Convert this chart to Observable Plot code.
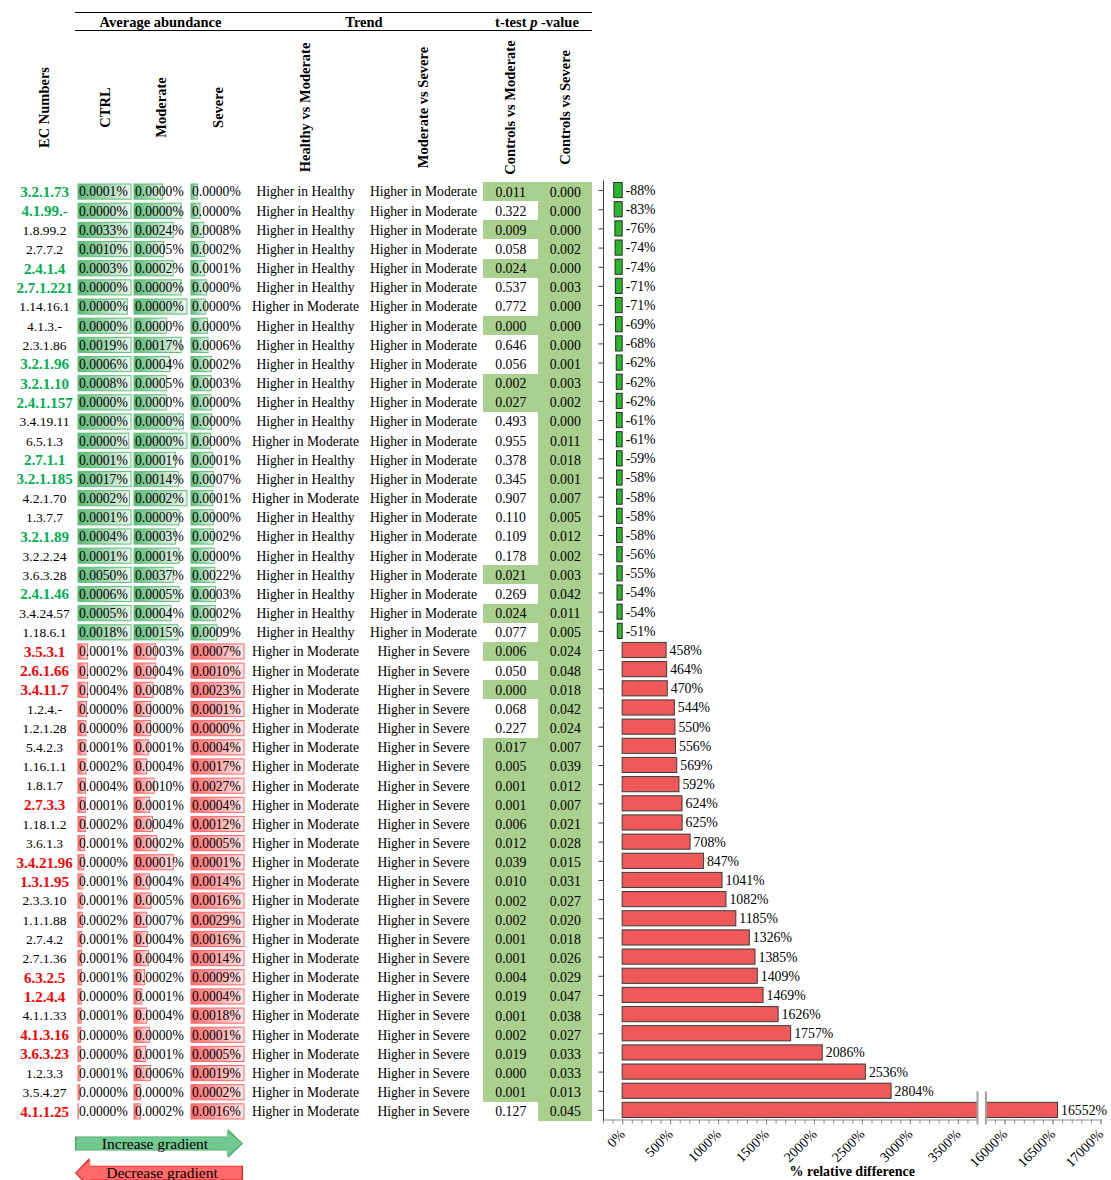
<!DOCTYPE html>
<html>
<head>
<meta charset="utf-8">
<script src="https://cdn.jsdelivr.net/npm/d3@7"></script>
<script src="https://cdn.jsdelivr.net/npm/@observablehq/plot@0.6"></script>
<style>
html, body { margin: 0; padding: 0; background: #fff; }
#root { position: relative; width: 1111px; height: 1180px; overflow: hidden;
  font-family: 'Liberation Serif', 'Times New Roman', Times, serif; color: #000; }
.col { position: absolute; top: 0; }
.col svg { display: block; overflow: visible; }
#groupHeader { position: absolute; left: 75px; top: 12px; width: 517px; height: 17px;
  border-top: 1.5px solid #000; border-bottom: 1.5px solid #000; display: flex;
  font-weight: bold; font-size: 14.5px; line-height: 18px; }
#groupHeader div { text-align: center; white-space: nowrap; }
.arrow { position: absolute; }
.arrow .edge, .arrow .fill { position: absolute; }
.arrow .edge { inset: 0; }
.arrow .fill { inset: 1.3px; }
.arrow span { position: absolute; font-size: 15.5px; line-height: 16px; white-space: nowrap; transform: translate(-50%, -50%); }
#arrInc .edge, #arrInc .fill { clip-path: polygon(0 26%, 91% 26%, 91% 0, 100% 50%, 91% 100%, 91% 74%, 0 74%); }
#arrDec .edge, #arrDec .fill { clip-path: polygon(100% 26%, 8.5% 26%, 8.5% 0, 0 50%, 8.5% 100%, 8.5% 74%, 100% 74%); }
#arrInc .edge { background: #3fa860; }
#arrInc .fill { background: #72c98f; }
#arrDec .edge { background: #ee1c1c; }
#arrDec .fill { background: #ff6b6b; }
</style>
</head>
<body>
<svg width="0" height="0" style="position:absolute">
  <defs>
    <linearGradient id="gradGreen" x1="0" x2="1" y1="0" y2="0">
      <stop offset="0" stop-color="#5bb974"/>
      <stop offset="1" stop-color="#e9f6ec"/>
    </linearGradient>
    <linearGradient id="gradRed" x1="0" x2="1" y1="0" y2="0">
      <stop offset="0" stop-color="#f8696b"/>
      <stop offset="1" stop-color="#fde6e6"/>
    </linearGradient>
  </defs>
</svg>
<div id="root">
  <div id="groupHeader">
    <div style="width:171px">Average abundance</div>
    <div style="width:236px">Trend</div>
    <div style="width:110px">t-test <i>p</i> -value</div>
  </div>
  <div class="arrow" id="arrInc" style="left:75px;top:1129px;width:168px;height:29px">
    <div class="edge"></div><div class="fill"></div>
    <span style="left:80px;top:15px">Increase gradient</span>
  </div>
  <div class="arrow" id="arrDec" style="left:75px;top:1158px;width:168px;height:30px">
    <div class="edge"></div><div class="fill"></div>
    <span style="left:87px;top:15px">Decrease gradient</span>
  </div>
</div>
<script>
// ---------------- data ----------------
const ecNumbers = ["3.2.1.73","4.1.99.-","1.8.99.2","2.7.7.2","2.4.1.4","2.7.1.221","1.14.16.1","4.1.3.-","2.3.1.86","3.2.1.96","3.2.1.10","2.4.1.157","3.4.19.11","6.5.1.3","2.7.1.1","3.2.1.185","4.2.1.70","1.3.7.7","3.2.1.89","3.2.2.24","3.6.3.28","2.4.1.46","3.4.24.57","1.18.6.1","3.5.3.1","2.6.1.66","3.4.11.7","1.2.4.-","1.2.1.28","5.4.2.3","1.16.1.1","1.8.1.7","2.7.3.3","1.18.1.2","3.6.1.3","3.4.21.96","1.3.1.95","2.3.3.10","1.1.1.88","2.7.4.2","2.7.1.36","6.3.2.5","1.2.4.4","4.1.1.33","4.1.3.16","3.6.3.23","1.2.3.3","3.5.4.27","4.1.1.25"];
const highlighted = [1,1,0,0,1,1,0,0,0,1,1,1,0,0,1,1,0,0,1,0,0,1,0,0, 1,1,1,0,0,0,0,0,1,0,0,1,1,0,0,0,0,1,1,0,1,1,0,0,1];
const ctrlAbundance = [0.0001,0.0000,0.0033,0.0010,0.0003,0.0000,0.0000,0.0000,0.0019,0.0006,0.0008,0.0000,0.0000,0.0000,0.0001,0.0017,0.0002,0.0001,0.0004,0.0001,0.0050,0.0006,0.0005,0.0018,
  0.0001,0.0002,0.0004,0.0000,0.0000,0.0001,0.0002,0.0004,0.0001,0.0002,0.0001,0.0000,0.0001,0.0001,0.0002,0.0001,0.0001,0.0001,0.0000,0.0001,0.0000,0.0000,0.0001,0.0000,0.0000];
const moderateAbundance = [0.0000,0.0000,0.0024,0.0005,0.0002,0.0000,0.0000,0.0000,0.0017,0.0004,0.0005,0.0000,0.0000,0.0000,0.0001,0.0014,0.0002,0.0000,0.0003,0.0001,0.0037,0.0005,0.0004,0.0015,
  0.0003,0.0004,0.0008,0.0000,0.0000,0.0001,0.0004,0.0010,0.0001,0.0004,0.0002,0.0001,0.0004,0.0005,0.0007,0.0004,0.0004,0.0002,0.0001,0.0004,0.0000,0.0001,0.0006,0.0000,0.0002];
const severeAbundance = [0.0000,0.0000,0.0008,0.0002,0.0001,0.0000,0.0000,0.0000,0.0006,0.0002,0.0003,0.0000,0.0000,0.0000,0.0001,0.0007,0.0001,0.0000,0.0002,0.0000,0.0022,0.0003,0.0002,0.0009,
  0.0007,0.0010,0.0023,0.0001,0.0000,0.0004,0.0017,0.0027,0.0004,0.0012,0.0005,0.0001,0.0014,0.0016,0.0029,0.0016,0.0014,0.0009,0.0004,0.0018,0.0001,0.0005,0.0019,0.0002,0.0016];
// data-bar lengths (share of the row's largest abundance)
const ctrlBar = [1,1,1,1,1,1,0.93,1,1,1,1,1,1,0.96,1,1,0.97,1,1,1,1,1,1,1,
  0.18,0.18,0.18,0.16,0.15,0.15,0.15,0.14,0.14,0.14,0.12,0.11,0.09,0.08,0.08,0.07,0.07,0.07,0.06,0.06,0.05,0.05,0.04,0.03,0.006];
const moderateBar = [0.54,0.89,0.74,0.56,0.74,0.89,1,0.61,0.89,0.67,0.61,0.61,0.93,1,0.78,0.84,1,0.85,0.78,0.85,0.74,0.85,0.7,0.83,
  0.41,0.41,0.36,0.31,0.31,0.27,0.24,0.38,0.29,0.35,0.43,0.74,0.29,0.32,0.24,0.25,0.27,0.2,0.15,0.24,0.29,0.22,0.31,0.12,0.12];
const severeBar = [0.12,0.17,0.24,0.26,0.26,0.29,0.27,0.31,0.32,0.38,0.38,0.38,0.39,0.37,0.41,0.42,0.41,0.42,0.42,0.44,0.45,0.46,0.46,0.49,
  1,1,1,1,1,1,1,1,1,1,1,1,1,1,1,1,1,1,1,1,1,1,1,1,1];
const trendHealthyVsModerate = [
  "Higher in Healthy","Higher in Healthy","Higher in Healthy","Higher in Healthy","Higher in Healthy","Higher in Healthy","Higher in Moderate","Higher in Healthy",
  "Higher in Healthy","Higher in Healthy","Higher in Healthy","Higher in Healthy","Higher in Healthy","Higher in Moderate","Higher in Healthy","Higher in Healthy",
  "Higher in Moderate","Higher in Healthy","Higher in Healthy","Higher in Healthy","Higher in Healthy","Higher in Healthy","Higher in Healthy","Higher in Healthy",
  "Higher in Moderate","Higher in Moderate","Higher in Moderate","Higher in Moderate","Higher in Moderate","Higher in Moderate","Higher in Moderate","Higher in Moderate",
  "Higher in Moderate","Higher in Moderate","Higher in Moderate","Higher in Moderate","Higher in Moderate","Higher in Moderate","Higher in Moderate","Higher in Moderate",
  "Higher in Moderate","Higher in Moderate","Higher in Moderate","Higher in Moderate","Higher in Moderate","Higher in Moderate","Higher in Moderate","Higher in Moderate",
  "Higher in Moderate"];
const trendModerateVsSevere = [
  "Higher in Moderate","Higher in Moderate","Higher in Moderate","Higher in Moderate","Higher in Moderate","Higher in Moderate","Higher in Moderate","Higher in Moderate",
  "Higher in Moderate","Higher in Moderate","Higher in Moderate","Higher in Moderate","Higher in Moderate","Higher in Moderate","Higher in Moderate","Higher in Moderate",
  "Higher in Moderate","Higher in Moderate","Higher in Moderate","Higher in Moderate","Higher in Moderate","Higher in Moderate","Higher in Moderate","Higher in Moderate",
  "Higher in Severe","Higher in Severe","Higher in Severe","Higher in Severe","Higher in Severe","Higher in Severe","Higher in Severe","Higher in Severe",
  "Higher in Severe","Higher in Severe","Higher in Severe","Higher in Severe","Higher in Severe","Higher in Severe","Higher in Severe","Higher in Severe",
  "Higher in Severe","Higher in Severe","Higher in Severe","Higher in Severe","Higher in Severe","Higher in Severe","Higher in Severe","Higher in Severe",
  "Higher in Severe"];
const pControlsVsModerate = [0.011,0.322,0.009,0.058,0.024,0.537,0.772,0.000,0.646,0.056,0.002,0.027,0.493,0.955,0.378,0.345,0.907,0.110,0.109,0.178,0.021,0.269,0.024,0.077,
  0.006,0.050,0.000,0.068,0.227,0.017,0.005,0.001,0.001,0.006,0.012,0.039,0.010,0.002,0.002,0.001,0.001,0.004,0.019,0.001,0.002,0.019,0.000,0.001,0.127];
const pControlsVsSevere = [0.000,0.000,0.000,0.002,0.000,0.003,0.000,0.000,0.000,0.001,0.003,0.002,0.000,0.011,0.018,0.001,0.007,0.005,0.012,0.002,0.003,0.042,0.011,0.005,
  0.024,0.048,0.018,0.042,0.024,0.007,0.039,0.012,0.007,0.021,0.028,0.015,0.031,0.027,0.020,0.018,0.026,0.029,0.047,0.038,0.027,0.033,0.033,0.013,0.045];
const relDiff = [-88,-83,-76,-74,-74,-71,-71,-69,-68,-62,-62,-62,-61,-61,-59,-58,-58,-58,-58,-56,-55,-54,-54,-51,
  458,464,470,544,550,556,569,592,624,625,708,847,1041,1082,1185,1326,1385,1409,1469,1626,1757,2086,2536,2804,16552];

const abundanceColumns = ["CTRL", "Moderate", "Severe"];
const trendColumns = ["Healthy vs Moderate", "Moderate vs Severe"];
const pColumns = ["Controls vs Moderate", "Controls vs Severe"];
const xMajorTicks = [0, 500, 1000, 1500, 2000, 2500, 3000, 3500, 16000, 16500, 17000];
const xDomain = [-200, 17000];
const xBreak = [3700, 15800];
const pThreshold = 0.05;

// ---------------- build ----------------
const root = document.getElementById("root");
const FONT = "'Liberation Serif','Times New Roman',Times,serif";
const ROW_TOP = 182, ROW_BOTTOM = 1121, HEADER_DY = -75;
const GREEN_TXT = "#00b050", RED_TXT = "#ff0000";
const fmt4 = d3.format(".4f"), fmt3 = d3.format(".3f");
const STYLE = {background: "transparent", fontFamily: FONT, overflow: "visible", color: "#000"};

const rows = ecNumbers.map((ec, i) => ({
  ec, up: relDiff[i] > 0, hi: highlighted[i] === 1, rd: relDiff[i],
  abund: {CTRL: ctrlAbundance[i], Moderate: moderateAbundance[i], Severe: severeAbundance[i]},
  bar: {CTRL: ctrlBar[i], Moderate: moderateBar[i], Severe: severeBar[i]}
}));
const trendLong = rows.flatMap((d, i) => [
  {ec: d.ec, col: trendColumns[0], v: trendHealthyVsModerate[i]},
  {ec: d.ec, col: trendColumns[1], v: trendModerateVsSevere[i]}]);
const pLong = rows.flatMap((d, i) => [
  {ec: d.ec, col: pColumns[0], p: pControlsVsModerate[i]},
  {ec: d.ec, col: pColumns[1], p: pControlsVsSevere[i]}]);

function mount(svg, left, width) {
  const div = document.createElement("div");
  div.className = "col";
  div.style.left = left + "px";
  div.style.width = width + "px";
  div.append(svg);
  root.append(div);
}
function tablePlot(o) {
  return Plot.plot({
    height: ROW_BOTTOM, marginTop: ROW_TOP, marginBottom: 0, marginLeft: 0, marginRight: 0,
    y: {type: "band", domain: ecNumbers, padding: 0, round: false, axis: null},
    style: STYLE, ...o
  });
}
const header = (data, opts = {}) => Plot.text(data, {
  text: d => d, frameAnchor: "top", dy: HEADER_DY, rotate: -90, lineAnchor: "middle",
  fontWeight: "bold", fontSize: 14.5, ...opts});

// EC numbers
mount(tablePlot({
  width: 88,
  marks: [
    header(["EC Numbers"]),
    Plot.text(rows.filter(d => !d.hi), {y: "ec", text: "ec", frameAnchor: "middle", fontSize: 13.5}),
    Plot.text(rows.filter(d => d.hi && !d.up), {y: "ec", text: "ec", frameAnchor: "middle", fontSize: 15, fontWeight: "bold", fill: GREEN_TXT}),
    Plot.text(rows.filter(d => d.hi && d.up), {y: "ec", text: "ec", frameAnchor: "middle", fontSize: 15, fontWeight: "bold", fill: RED_TXT})
  ]
}), 0, 88);

// Average abundance columns with data bars
const abundanceLeft = [75.5, 131.5, 188.5];
abundanceColumns.forEach((c, j) => {
  mount(tablePlot({
    width: 57, marginLeft: 2, marginRight: 2,
    x: {domain: [0, 1], axis: null},
    marks: [
      Plot.barX(rows.filter(d => !d.up), {x: d => d.bar[c], y: "ec", fill: "url(#gradGreen)", stroke: "#63be7b", strokeWidth: 1, insetTop: 2, insetBottom: 2}),
      Plot.barX(rows.filter(d => d.up), {x: d => d.bar[c], y: "ec", fill: "url(#gradRed)", stroke: "#f8696b", strokeWidth: 1, insetTop: 2, insetBottom: 2}),
      Plot.text(rows, {y: "ec", text: d => fmt4(d.abund[c]) + "%", frameAnchor: "left", textAnchor: "start", dx: 0.5, fontSize: 13.6}),
      header([c])
    ]
  }), abundanceLeft[j], 57);
});

// Trend columns
mount(tablePlot({
  width: 236,
  x: {type: "band", domain: trendColumns, padding: 0, round: false, axis: null},
  marks: [
    Plot.text(trendLong, {x: "col", y: "ec", text: "v", fontSize: 13.6}),
    header(trendColumns, {x: d => d})
  ]
}), 246, 236);

// p-value columns
mount(tablePlot({
  width: 109,
  x: {type: "band", domain: pColumns, padding: 0, round: false, axis: null},
  marks: [
    Plot.cell(pLong.filter(d => d.p < pThreshold), {x: "col", y: "ec", fill: "#a9d08e", inset: 0, shapeRendering: "crispEdges"}),
    Plot.text(pLong, {x: "col", y: "ec", text: d => fmt3(d.p), fontSize: 13.8}),
    header(pColumns, {x: d => d})
  ]
}), 482.5, 109);

// Relative difference bar chart with broken axis
const BW = 551, BML = 43, BMR = 10.5, GAP = 8.4;
const units = (xBreak[0] - xDomain[0]) + (xDomain[1] - xBreak[1]);
const k = (BW - BML - BMR - GAP) / units;
const r1 = BML + (xBreak[0] - xDomain[0]) * k;
const xMinorTicks = [...d3.range(xDomain[0], xBreak[0], 100), ...d3.range(xBreak[1] + 100, xDomain[1] + 1, 100)];
const lastEc = ecNumbers[ecNumbers.length - 1];

mount(Plot.plot({
  width: BW, height: 1180, marginTop: 180.5, marginBottom: 60.5, marginLeft: BML, marginRight: BMR,
  x: {type: "linear", domain: [xDomain[0], xBreak[0], xBreak[1], xDomain[1]], range: [BML, r1, r1 + GAP, BW - BMR]},
  y: {type: "band", domain: ecNumbers, padding: 0, round: false},
  style: STYLE,
  marks: [
    Plot.axisY({tickSize: 4.5, tickFormat: () => "", label: null, stroke: "#404040"}),
    Plot.axisX({ticks: xMinorTicks, tickSize: 4, tickFormat: () => "", label: null, stroke: "#8c8c8c"}),
    Plot.axisX({ticks: xMajorTicks, tickSize: 5, tickRotate: -45, tickFormat: d => d + "%", label: null, fontSize: 14, stroke: "#8c8c8c", fill: "#000"}),
    Plot.frame({anchor: "bottom", stroke: "#8c8c8c"}),
    Plot.frame({anchor: "left", stroke: "#404040"}),
    Plot.barX(rows.filter(d => !d.up), {x: "rd", y: "ec", fill: "#2bb82b", stroke: "#2a2a2a", strokeWidth: 1, insetTop: 2, insetBottom: 2}),
    Plot.barX(rows.filter(d => d.up), {x: "rd", y: "ec", fill: "#f15858", stroke: "#3a3a3a", strokeWidth: 1, insetTop: 2, insetBottom: 2}),
    Plot.barX([xBreak], {x1: d => d[0], x2: d => d[1], fill: "white", insetBottom: -3}),
    Plot.tickX(xBreak, {x: d => d, y: () => lastEc, stroke: "#a0a0a0", strokeWidth: 2, insetTop: -9, insetBottom: -5}),
    Plot.text(rows, {x: d => Math.max(0, d.rd), y: "ec", text: d => d.rd + "%", textAnchor: "start", dx: 3, fontSize: 13.8}),
    Plot.text(["% relative difference"], {text: d => d, frameAnchor: "bottom", lineAnchor: "middle", dy: 52, fontWeight: "bold", fontSize: 14})
  ]
}), 560, BW);
</script>
</body>
</html>
